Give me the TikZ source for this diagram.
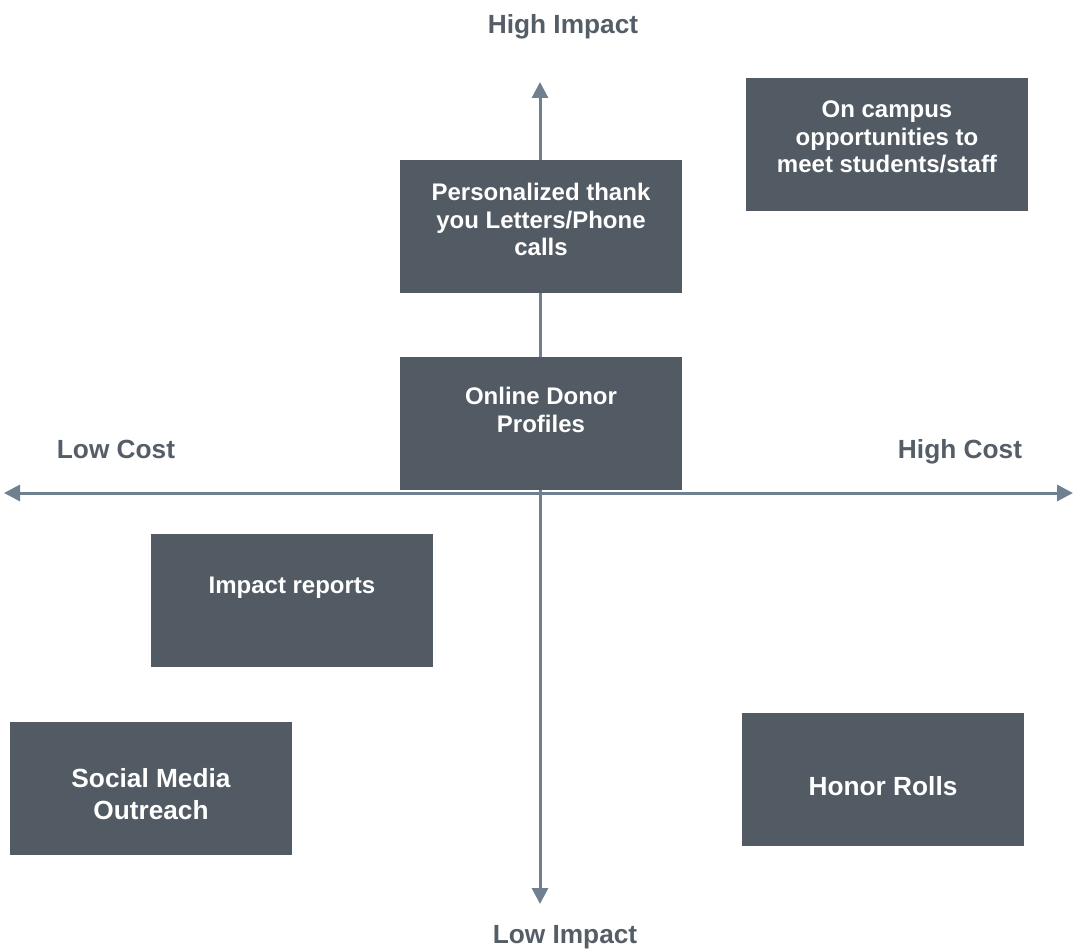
\documentclass[tikz,border=0pt]{standalone}
\usepackage{fontspec}
\setmainfont{Liberation Sans}
\usetikzlibrary{arrows.meta}
\definecolor{boxfill}{RGB}{82,90,99}
\definecolor{axiscol}{RGB}{111,128,145}
\definecolor{labcol}{RGB}{85,93,102}
\tikzset{
  quadbox/.style={draw=none, fill=boxfill, rectangle, minimum width=211.5pt, minimum height=99.75pt, inner sep=0pt},
  boxtext/.style={text=white, font=\bfseries\fontsize{18}{20.6}\selectfont, align=center, inner sep=0pt},
  bigtext/.style={text=white, font=\bfseries\fontsize{19.7}{23.5}\selectfont, align=center, inner sep=0pt},
  axlabel/.style={text=labcol, font=\bfseries\fontsize{19.7}{23.5}\selectfont, inner sep=0pt},
  axisline/.style={draw=axiscol, line width=2.25pt, -{Triangle[length=12pt,width=12pt]}}
}
\begin{document}
\begin{tikzpicture}[x=0.75pt,y=-0.75pt]
\useasboundingbox (0,0) rectangle (1076,949);
% axis ends
\coordinate (o) at (540,493);
\coordinate (left) at (4,493);
\coordinate (right) at (1073,493);
\coordinate (top) at (540,82);
\coordinate (bottom) at (540,904);
\draw[axisline] (o) -- (left);
\draw[axisline] (o) -- (right);
\draw[axisline] (o) -- (top);
\draw[axisline] (o) -- (bottom);
% axis labels
\node[axlabel] (hi) at (563,27) {High Impact};
\node[axlabel] (lo) at (565,937) {Low Impact};
\node[axlabel] (lc) at (116,449) {Low Cost};
\node[axlabel] (hc) at (960,452) {High Cost};
% boxes
\node[quadbox] (pers) at (541,226.5) {};
\node[boxtext] (perst) at (541,219.5) {Personalized thank\\you Letters/Phone\\calls};
\node[quadbox] (camp) at (887,144.5) {};
\node[boxtext] (campt) at (887,137) {On campus\\opportunities to\\meet students/staff};
\node[quadbox] (onl) at (541,423.5) {};
\node[boxtext] (onlt) at (541,410) {Online Donor\\Profiles};
\node[quadbox] (imp) at (291.5,600.5) {};
\node[boxtext] (impt) at (292,588) {Impact reports};
\node[quadbox] (soc) at (150.5,788.5) {};
\node[bigtext] (soct) at (151,794) {Social Media\\Outreach};
\node[quadbox] (hon) at (883,779.5) {};
\node[bigtext] (hont) at (883,786) {Honor Rolls};
\end{tikzpicture}
\end{document}
